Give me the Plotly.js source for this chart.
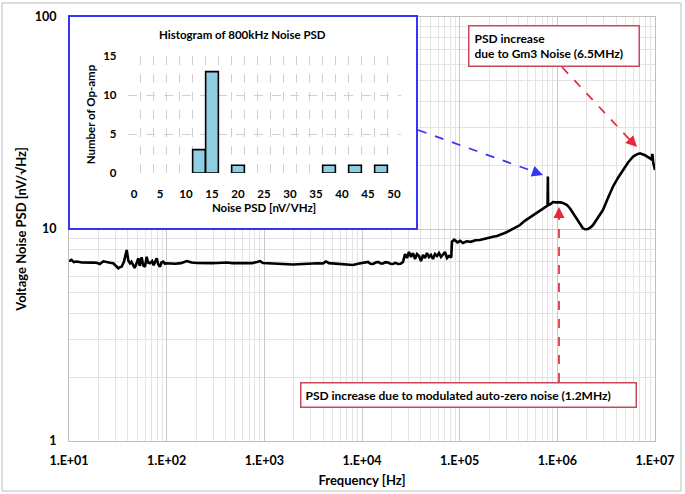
<!DOCTYPE html>
<html><head><meta charset="utf-8">
<script src="https://cdn.plot.ly/plotly-3.0.1.min.js"></script>
<style>html,body{margin:0;padding:0;background:#fff}#chart{width:685px;height:494px}</style>
</head><body><div id="chart"></div>
<script>
// Main PSD curve (Hz, nV/sqrtHz)
const freqHz = [10,10.6,11.2,12,13.5,15.5,17.5,19.2,20.7,22.5,24.5,26.3,28.4,30,32,33.5,34.6,36.5,39,40.5,42.1,43.5,45.4,47,49,51.2,53,55.4,57.5,60,62.4,64.5,67.4,71,73.5,76,79.1,82,85.4,88.5,92.3,96,99.8,
122,140,161,180,205,230,259,290,327,370,415,470,525,590,664,750,841,903,969,1100,1227,1390,1553,1750,1965,2200,2488,2800,3148,3550,3987,4277,4600,5047,5650,6387,7200,8085,9100,10230,11510,12200,12970,13800,14590,15500,16410,17400,18460,19600,20770,22000,23360,24800,
26300,27550,28890,30270,31750,33260,34880,36550,38330,40170,42120,44150,46290,48530,50860,53330,55900,58610,61440,64410,67520,70790,74210,77800,80540,82000,83400,
88000,95000,101000,108000,118000,130000,145000,161000,180000,200000,220000,241000,265000,285000,305000,335000,370000,415000,460000,510000,563000,620000,670000,713000,760000,795000,800000,805000,850000,902000,960000,1016000,1080000,1140000,1200000,1256000,1350000,1446000,1580000,1706000,1820000,1920000,2060000,2200000,2320000,2600000,2930000,3300000,3710000,4200000,4700000,5300000,5950000,6500000,7020000,7450000,7890000,8400000,8890000,9200000,9400000,9600000,10000000];
const psdNV = [7.05,7.15,6.98,7.02,6.95,6.97,6.94,6.93,6.84,7.04,6.95,6.93,6.89,6.75,6.53,6.62,6.64,7.0,7.96,7.1,6.89,7.01,6.80,6.55,6.85,7.27,6.70,7.35,6.75,6.64,7.40,6.95,6.89,7.05,6.75,7.01,7.27,6.82,6.64,6.95,7.01,6.85,6.89,
6.86,6.9,7.06,6.95,6.91,6.89,6.88,6.9,6.91,6.93,6.95,6.9,6.91,6.89,6.93,6.9,6.99,7.06,6.91,6.88,6.88,6.85,6.84,6.82,6.80,6.82,6.84,6.87,6.91,6.89,6.88,7.03,6.9,6.88,6.86,6.84,6.8,6.76,6.86,6.91,6.99,6.85,6.84,6.95,6.99,6.88,6.88,6.98,6.95,6.86,6.84,6.92,6.84,6.86,
6.99,7.62,7.30,7.79,7.38,7.70,7.22,7.62,7.46,7.06,7.54,7.30,7.70,7.38,7.54,7.22,7.62,7.46,7.70,7.38,7.54,7.79,7.30,7.46,7.38,7.4,8.71,
8.9,8.65,8.8,8.59,8.75,8.7,8.85,8.87,9.0,9.05,9.2,9.27,9.4,9.55,9.68,9.9,10.1,10.44,10.9,11.25,11.64,12.0,12.3,12.56,12.75,12.9,17.7,12.95,13.1,13.4,13.35,13.4,13.35,13.27,13.1,12.98,12.5,11.9,11.1,10.44,10.1,9.97,10.0,10.2,10.44,11.3,12.29,14.0,15.83,17.5,18.97,20.6,21.93,22.5,22.75,22.6,22.3,21.9,21.5,21.3,22.6,20.5,18.97];

// Inset histogram
const histBins = [12.5,15,20,37.5,42.5,47.5];
const histCounts = [3,13,1,1,1,1];

const xTickVals = [1e1,1e2,1e3,1e4,1e5,1e6,1e7];
const xTickText = ['1.E+01','1.E+02','1.E+03','1.E+04','1.E+05','1.E+06','1.E+07'];
const yTickVals = [1,10,100];
const yTickText = ['1','10','100'];
const histTickVals = [0,5,10,15,20,25,30,35,40,45,50];

const FONT = 'Lato, "Liberation Sans", sans-serif';
const xMinor = []; for (let d=10; d<1e7; d*=10) for (let k=2;k<10;k++) xMinor.push(d*k);
const yMinor = []; for (let d=1; d<100; d*=10) for (let k=2;k<10;k++) yMinor.push(d*k);

// pixel helpers to paper coords (plot area 69..655 x 17..441)
const PX = p => (p-69)/586, PY = p => (441-p)/424;

const traces = [
  {x: freqHz, y: psdNV, type:'scatter', mode:'lines', line:{color:'#000', width:2.6}, xaxis:'x', yaxis:'y', hoverinfo:'skip'},
  {x: histBins, y: histCounts, type:'bar', width:2.45, xaxis:'x2', yaxis:'y2',
   marker:{color:'#8fcde0', line:{color:'#000', width:1.6}}, hoverinfo:'skip'}
];

const boldBlack = (s)=>({family:FONT, size:s, color:'#000', weight:700});

const layout = {
  width:685, height:494, margin:{l:69, r:30, t:17, b:53},
  paper_bgcolor:'#fff', plot_bgcolor:'#fff', showlegend:false,
  font:{family:FONT, color:'#000'},
  xaxis:{type:'log', range:[1,7], domain:[0,1], tickmode:'array', tickvals:xTickVals, ticktext:xTickText,
    tickfont:boldBlack(12.5), ticks:'', showgrid:true, gridcolor:'#c9c9c9', gridwidth:1,
    minor:{tickmode:'array', tickvals:xMinor, showgrid:true, gridcolor:'#e3e3e3', gridwidth:1, ticks:''},
    showline:true, linecolor:'#bfbfbf', mirror:true, zeroline:false, ticklabelstandoff:8,
    title:{text:'Frequency [Hz]', font:boldBlack(13), standoff:8}},
  yaxis:{type:'log', range:[0,2], domain:[0,1], tickmode:'array', tickvals:yTickVals, ticktext:yTickText,
    tickfont:boldBlack(12.5), ticks:'', showgrid:true, gridcolor:'#c9c9c9', gridwidth:1,
    minor:{tickmode:'array', tickvals:yMinor, showgrid:true, gridcolor:'#e3e3e3', gridwidth:1, ticks:''},
    showline:true, linecolor:'#bfbfbf', mirror:true, zeroline:false, ticklabelstandoff:9,
    title:{text:'Voltage Noise PSD [nV/√Hz]', font:boldBlack(13), standoff:5}},
  xaxis2:{anchor:'y2', domain:[PX(127.5), PX(400.5)], range:[-1.25,51.25], tickmode:'array', tickvals:histTickVals,
    tickfont:boldBlack(11.5), ticks:'', showgrid:false, zeroline:false, showline:false,
    minor:{tick0:-1.25, dtick:2.5, showgrid:true, gridcolor:'#d0d0d0', griddash:'dash', gridwidth:1, ticks:''},
    ticklabelstandoff:12,
    title:{text:'Noise PSD [nV/VHz]', font:boldBlack(11.5), standoff:5}},
  yaxis2:{anchor:'x2', domain:[PY(173), PY(56)], range:[0,15], tickmode:'array', tickvals:[0,5,10,15],
    tickfont:boldBlack(11.5), ticks:'', showgrid:true, gridcolor:'#d0d0d0', griddash:'dash', zeroline:false, showline:false,
    ticklabelstandoff:10,
    title:{text:'Number of Op-amp', font:boldBlack(11.5), standoff:5}},
  shapes:[
    // white background for inset (above main grid, below traces)
    {type:'rect', xref:'x', yref:'y', x0:10, x1:36550, y0:10, y1:100, layer:'between', fillcolor:'#fff', line:{width:0}},
    // inset border
    {type:'rect', xref:'paper', yref:'paper', x0:PX(69), x1:PX(417), y0:PY(229), y1:PY(16), layer:'above', line:{color:'#3535f2', width:2}},
    // picture frame
    {type:'rect', xref:'paper', yref:'paper', x0:PX(2), x1:PX(681), y0:PY(491), y1:PY(3), layer:'above', line:{color:'#bdbdbd', width:1}},
    // dashed arrows
    {type:'line', xref:'paper', yref:'paper', x0:PX(418), y0:PY(130), x1:PX(535), y1:PY(172), layer:'above', line:{color:'#3535f2', width:1.7, dash:'dash'}},
    {type:'line', xref:'paper', yref:'paper', x0:PX(562), y0:PY(67), x1:PX(630), y1:PY(140), layer:'above', line:{color:'#e8283c', width:1.7, dash:'dash'}},
    {type:'line', xref:'paper', yref:'paper', x0:PX(559), y0:PY(382), x1:PX(559), y1:PY(216), layer:'above', line:{color:'#e8283c', width:1.7, dash:'dash'}}
  ],
  annotations:[
    {xref:'paper', yref:'paper', x:PX(242), y:PY(34), text:'Histogram of 800kHz Noise PSD', showarrow:false, font:boldBlack(11.5), xanchor:'center', yanchor:'middle'},
    {xref:'paper', yref:'paper', x:PX(468), y:PY(25), xanchor:'left', yanchor:'top', align:'left', showarrow:false,
     width:159, height:29,
     text:'PSD increase<br>due to Gm3 Noise (6.5MHz)', font:boldBlack(12), bgcolor:'#fff', bordercolor:'#c8485a', borderwidth:1.5, borderpad:5},
    {xref:'paper', yref:'paper', x:PX(300), y:PY(382), xanchor:'left', yanchor:'top', align:'left', showarrow:false,
     width:326, height:15,
     text:'PSD increase due to modulated auto-zero noise (1.2MHz)', font:boldBlack(12), bgcolor:'#fff', bordercolor:'#c8485a', borderwidth:1.5, borderpad:4},
    // arrow heads
    {xref:'paper', yref:'paper', x:PX(543), y:PY(175), text:'', showarrow:true, arrowhead:2, arrowsize:1.3, arrowwidth:1.7, arrowcolor:'#3535f2', ax:-10, ay:-3.6, standoff:0},
    {xref:'paper', yref:'paper', x:PX(637), y:PY(147), text:'', showarrow:true, arrowhead:2, arrowsize:1.3, arrowwidth:1.7, arrowcolor:'#e8283c', ax:-7, ay:-7.2, standoff:0},
    {xref:'paper', yref:'paper', x:PX(559), y:PY(207), text:'', showarrow:true, arrowhead:2, arrowsize:1.3, arrowwidth:1.7, arrowcolor:'#e8283c', ax:0, ay:10, standoff:0}
  ]
};

Plotly.newPlot('chart', traces, layout, {staticPlot:true, displayModeBar:false});
</script></body></html>
